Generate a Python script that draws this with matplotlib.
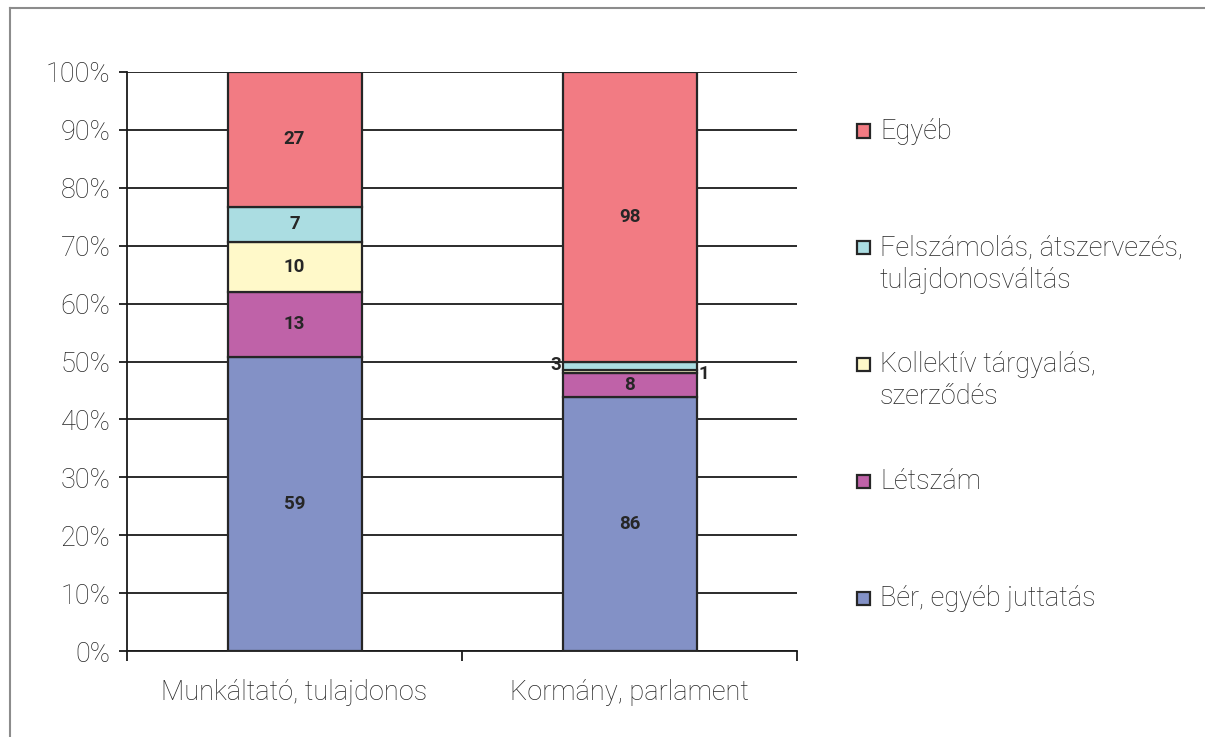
import numpy as np
import matplotlib
matplotlib.use('Agg')
from matplotlib import pyplot as plt
from matplotlib.patches import Rectangle
from matplotlib.lines import Line2D

plt.rcParams['font.family'] = ['Roboto', 'DejaVu Sans']

kategoriak = ['Munkáltató, tulajdonos', 'Kormány, parlament']
sorozatok = ['Bér, egyéb juttatás', 'Létszám', 'Kollektív tárgyalás,\nszerződés',
             'Felszámolás, átszervezés,\ntulajdonosváltás', 'Egyéb']
ber = [59, 86]
letszam = [13, 8]
kollektiv = [10, 1]
felszamolas = [7, 3]
egyeb = [27, 98]
szinek = ['#8391C6', '#BF62A8', '#FFF9C9', '#ABDDE2', '#F27B83']

ertekek = np.array([ber, letszam, kollektiv, felszamolas, egyeb], dtype=float)
osszeg = ertekek.sum(axis=0)
szazalek = ertekek / osszeg * 100

szoveg = '#262626'
fig = plt.figure(figsize=(12.05, 7.37), dpi=100)
ax = fig.add_axes([127/1205, 1-651/737, 670/1205, 579/737])

x = np.arange(len(kategoriak))
alja = np.zeros(len(kategoriak))
for i in range(len(sorozatok)):
    ax.bar(x, szazalek[i], 0.4, bottom=alja, color=szinek[i], edgecolor='#262626',
           linewidth=1.6, zorder=3)
    for j in range(len(kategoriak)):
        kozep = alja[j] + szazalek[i][j] / 2
        if szazalek[i][j] < 2:
            # small slices get their label outside the bar
            if i == 2:
                ax.text(x[j] + 0.2 + 0.005, kozep - 0.3, str(int(ertekek[i][j])), ha='left', va='center',
                        fontsize=13.5, fontweight='bold', color=szoveg, zorder=4)
            else:
                ax.text(x[j] - 0.2 - 0.005, kozep + 0.2, str(int(ertekek[i][j])), ha='right', va='center',
                        fontsize=13.5, fontweight='bold', color=szoveg, zorder=4)
        else:
            ax.text(x[j], kozep, str(int(ertekek[i][j])), ha='center', va='center',
                    fontsize=13.5, fontweight='bold', color=szoveg, zorder=4)
    alja += szazalek[i]

ax.set_xlim(-0.5, 1.5)
ax.set_ylim(0, 100)
ax.set_yticks(np.arange(0, 101, 10))
ax.set_yticklabels([f'{v}%' for v in range(0, 101, 10)], fontsize=19.5, fontweight='light', color=szoveg)
ax.yaxis.grid(True, color='#1a1a1a', linewidth=1.3, zorder=0)
ax.set_axisbelow(True)
ax.set_xticks(x)
ax.set_xticklabels(kategoriak, fontsize=19.5, fontweight='light', color=szoveg)
ax.set_xticks([-0.5, 0.5, 1.5], minor=True)
ax.tick_params(axis='x', which='major', length=0, pad=20)
ax.tick_params(axis='x', which='minor', length=7, width=1.3, color='#1a1a1a', direction='out')
ax.tick_params(axis='y', length=6, width=1.3, color='#1a1a1a', pad=6)
for s in ['top', 'right']:
    ax.spines[s].set_visible(False)
for s in ['left', 'bottom']:
    ax.spines[s].set_color('#1a1a1a')
    ax.spines[s].set_linewidth(1.3)

# legend drawn by hand, top entry first
for k, i in enumerate(range(len(sorozatok) - 1, -1, -1)):
    yp = 1 - (131 + k * 116.75) / 737
    fig.patches.append(Rectangle((857/1205, yp - 6.5/737), 13/1205, 13/737, transform=fig.transFigure,
                                 facecolor=szinek[i], edgecolor='#262626', linewidth=1.6))
    for l, sor in enumerate(sorozatok[i].split('\n')):
        fig.text(880/1205, yp - (8 + l * 32)/737, sor, ha='left', va='baseline', fontsize=19.5,
                 fontweight='light', color=szoveg)

# outer frame
fig.lines.append(Line2D([9.5/1205, 9.5/1205], [0, 1 - 8/737], transform=fig.transFigure, color='#8c8c8c', linewidth=1.5))
fig.lines.append(Line2D([9.5/1205, 1], [1 - 8/737, 1 - 8/737], transform=fig.transFigure, color='#8c8c8c', linewidth=1.5))

fig.savefig('out.png', dpi=100)
